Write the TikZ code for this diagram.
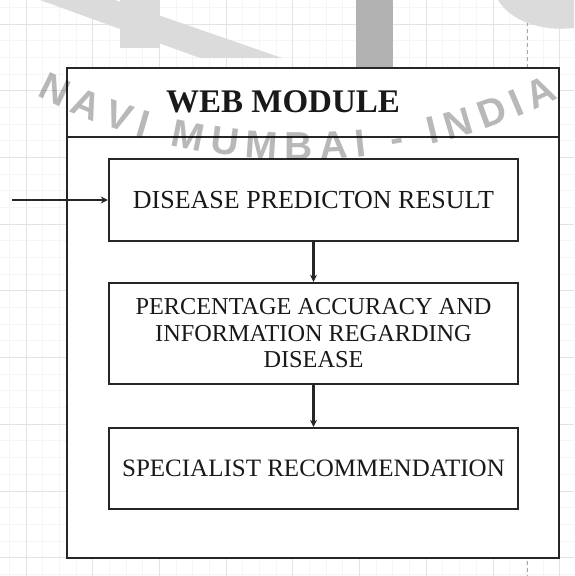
\documentclass[tikz,border=0pt]{standalone}
\usepackage{fontspec}
\setmainfont{Liberation Serif}
\newfontfamily\marksans{Liberation Sans}
\usetikzlibrary{arrows.meta,decorations.text}

\begin{document}
\begin{tikzpicture}[x=1pt,y=-1pt,
  frame/.style={draw=black!85,line width=2.3pt},
  stage/.style={frame,fill=white,rectangle,minimum width=409pt,inner sep=0pt,
    align=center,text=black!90,font=\fontsize{#1}{26.5}\selectfont},
  stage/.default=25,
  flow/.style={draw=black!85,line width=2.3pt,-{Stealth[length=7pt,width=7pt]}},
  gridminor/.style={draw=black!4,line width=0.6pt},
  gridmajor/.style={draw=black!11,line width=0.8pt},
  logo/.style={fill=black!14,draw=none},
]
\useasboundingbox (0,0) rectangle (574,576);

% sheet grid
\foreach \i in {0,...,35} {
  \draw[gridminor] ({-7.3+16.67*\i},0) -- ++(0,576);
  \draw[gridminor] (0,{-9.3+16.67*\i}) -- ++(574,0);
}
\foreach \i in {0,...,8} {
  \draw[gridmajor] ({26+66.7*\i},0) -- ++(0,576);
  \draw[gridmajor] (0,{24+66.7*\i}) -- ++(574,0);
}
\draw[black!35,line width=0.8pt,dash pattern=on 4pt off 3pt] (527,15) -- (527,576);

% faded emblem behind the heading
\fill[logo] (40,0) -- (115,0) -- (282,58) -- (200,58) -- cycle;
\fill[logo] (120,0) rectangle (160,48);
\fill[black!30] (356,0) rectangle (393,72);
\fill[logo] (498,0) -- (574,0) -- (574,28) .. controls (540,32) and (510,20) .. (498,0);

% module frame with heading
\node[frame,fill=white,rectangle,minimum width=492pt,minimum height=490pt,inner sep=0pt]
  (module) at (313,313) {};
\coordinate (sepL) at (67,137);
\coordinate (sepR) at (559,137);
\draw[frame] (sepL) -- (sepR);
\node[anchor=base,inner sep=0pt,text=black!90,font=\fontsize{33}{33}\selectfont\bfseries]
  (title) at (283,112) {WEB MODULE};

% stages
\node[stage=26,minimum height=82pt] (result) at (313.5,200)
  {DISEASE PREDICTON RESULT};
\node[stage=24.3,minimum height=101pt] (accuracy) at (313.5,333.5)
  {PERCENTAGE ACCURACY AND\\INFORMATION REGARDING\\DISEASE};
\node[stage=25,minimum height=81pt] (specialist) at (313.5,468.5)
  {SPECIALIST RECOMMENDATION};

% connectors
\coordinate (feed) at (12,200);
\draw[flow] (feed) -- (result.west);
\draw[flow] (result.south) -- (accuracy.north);
\draw[flow] (accuracy.south) -- (specialist.north);

% seal lettering over the sheet
\begin{scope}[opacity=0.28]
  \coordinate (sealc) at (300,-410);
  \path[decorate,decoration={text along path,
      text={|\marksans\bfseries\fontsize{39}{39}\selectfont|NAVI MUMBAI - INDIA},
      text align={fit to path},text color=black}]
    (sealc) ++(117.5:570) arc[start angle=117.5,end angle=63,radius=570];
\end{scope}
\end{tikzpicture}
\end{document}
